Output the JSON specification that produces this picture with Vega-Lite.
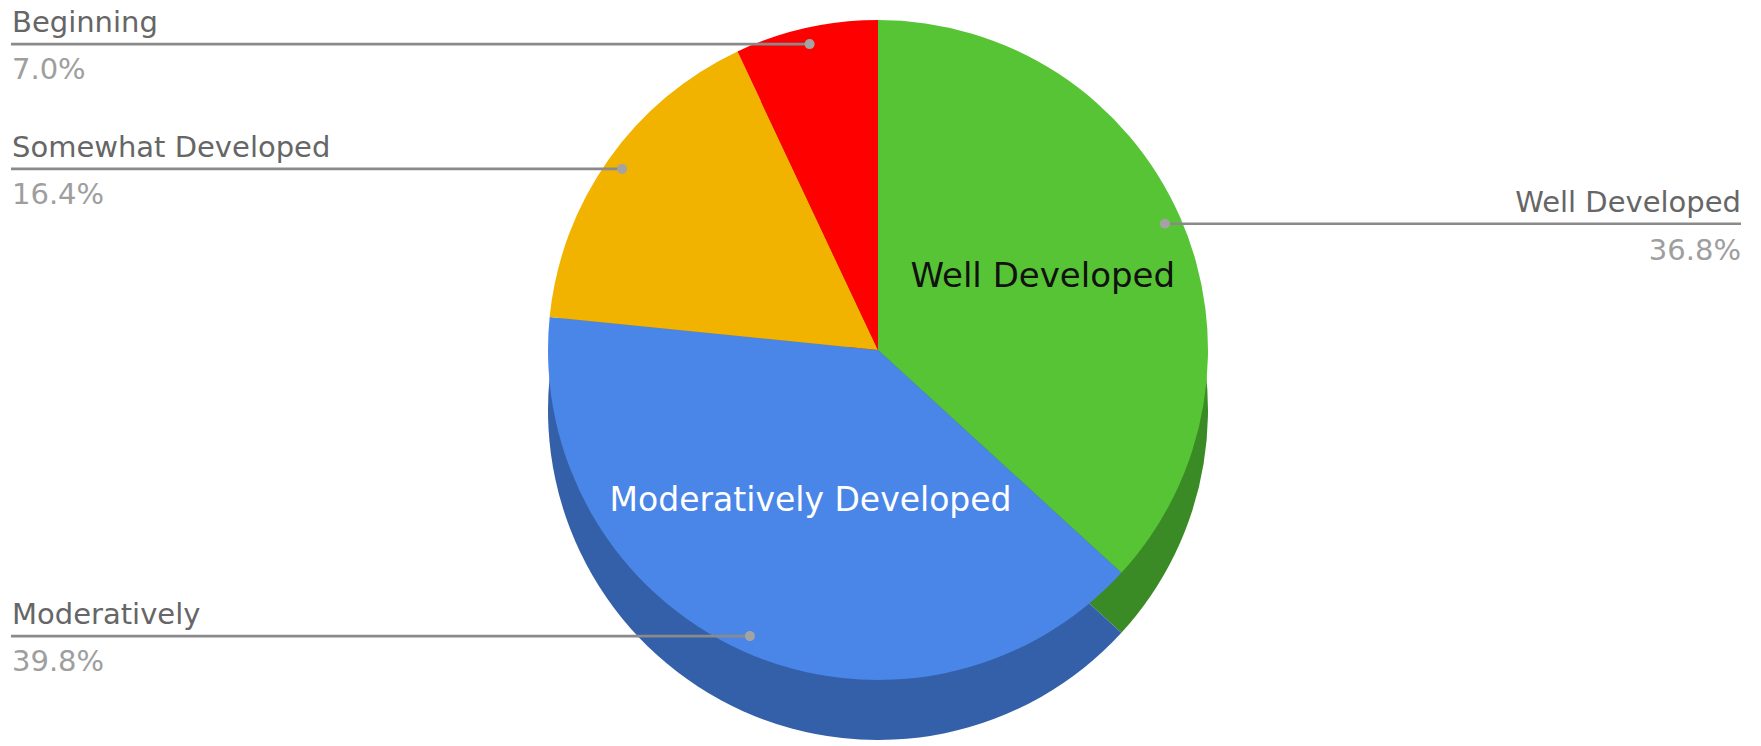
{
  "$schema": "https://vega.github.io/schema/vega-lite/v6.json",
  "width": 1756,
  "height": 700,
  "padding": 0,
  "background": "white",
  "config": {"view": {"stroke": null}, "font": "DejaVu Sans"},
  "data": {"values": [
    {"category": "Well Developed", "label": "Well Developed", "share": 0.368, "rank": 1},
    {"category": "Moderatively Developed", "label": "Moderatively", "share": 0.398, "rank": 2},
    {"category": "Somewhat Developed", "label": "Somewhat Developed", "share": 0.164, "rank": 3},
    {"category": "Beginning", "label": "Beginning", "share": 0.07, "rank": 4}
  ]},
  "layer": [
    {
      "mark": {"type": "arc", "outerRadius": 330, "yOffset": 60},
      "encoding": {
        "theta": {"field": "share", "type": "quantitative", "stack": true},
        "order": {"field": "rank", "type": "quantitative"},
        "fill": {"field": "category", "type": "nominal", "legend": null,
          "scale": {"domain": ["Well Developed", "Moderatively Developed", "Somewhat Developed", "Beginning"],
                    "range": ["#3a8b25", "#3360a8", "#b08300", "#b80000"]}}
      }
    },
    {
      "mark": {"type": "arc", "outerRadius": 330},
      "encoding": {
        "theta": {"field": "share", "type": "quantitative", "stack": true},
        "order": {"field": "rank", "type": "quantitative"},
        "color": {"field": "category", "type": "nominal", "legend": null,
          "scale": {"domain": ["Well Developed", "Moderatively Developed", "Somewhat Developed", "Beginning"],
                    "range": ["#56c434", "#4a86e8", "#f1b300", "#ff0000"]}}
      }
    },
    {
      "mark": {"type": "text", "radius": 180, "fontSize": 34, "align": "center", "baseline": "middle", "font": "DejaVu Sans"},
      "encoding": {
        "theta": {"field": "share", "type": "quantitative", "stack": true},
        "order": {"field": "rank", "type": "quantitative"},
        "text": {"condition": {"test": "datum.category === 'Well Developed'", "field": "category", "type": "nominal"}, "value": ""},
        "color": {"value": "#111111"}
      }
    },
    {
      "mark": {"type": "text", "radius": 165, "fontSize": 33, "align": "center", "baseline": "middle", "font": "DejaVu Sans"},
      "encoding": {
        "theta": {"field": "share", "type": "quantitative", "stack": true},
        "order": {"field": "rank", "type": "quantitative"},
        "text": {"condition": {"test": "datum.category === 'Moderatively Developed'", "field": "category", "type": "nominal"}, "value": ""},
        "color": {"value": "#ffffff"}
      }
    },
    {
      "transform": [{"filter": "datum.category !== 'Well Developed'"}],
      "mark": {"type": "rule", "strokeWidth": 2.6, "color": "#8a8a8a"},
      "encoding": {
        "x": {"field": "share", "type": "quantitative", "axis": null,
          "scale": {"domain": [0.07, 0.164, 0.368, 0.398], "range": [809.6, 622.1, 1164.9, 749.9], "zero": false, "nice": false}},
        "x2": {"value": 11},
        "y": {"field": "share", "type": "quantitative", "axis": null,
          "scale": {"domain": [0.07, 0.164, 0.368, 0.398], "range": [44.1, 168.9, 223.7, 636.1], "zero": false, "nice": false}}
      }
    },
    {
      "transform": [{"filter": "datum.category === 'Well Developed'"}],
      "mark": {"type": "rule", "strokeWidth": 2.6, "color": "#8a8a8a"},
      "encoding": {
        "x": {"field": "share", "type": "quantitative"},
        "x2": {"value": 1741},
        "y": {"field": "share", "type": "quantitative"}
      }
    },
    {
      "mark": {"type": "point", "filled": true, "size": 100, "color": "#a3a3a3", "opacity": 1},
      "encoding": {
        "x": {"field": "share", "type": "quantitative"},
        "y": {"field": "share", "type": "quantitative"}
      }
    },
    {
      "transform": [{"filter": "datum.category !== 'Well Developed'"}],
      "mark": {"type": "text", "x": 12, "dy": -12, "align": "left", "baseline": "alphabetic", "fontSize": 29, "color": "#666666", "font": "DejaVu Sans"},
      "encoding": {
        "y": {"field": "share", "type": "quantitative"},
        "text": {"field": "label", "type": "nominal"}
      }
    },
    {
      "transform": [{"filter": "datum.category !== 'Well Developed'"}],
      "mark": {"type": "text", "x": 12, "dy": 35, "align": "left", "baseline": "alphabetic", "fontSize": 29, "color": "#9e9e9e", "font": "DejaVu Sans"},
      "encoding": {
        "y": {"field": "share", "type": "quantitative"},
        "text": {"field": "share", "type": "quantitative", "format": ".1%"}
      }
    },
    {
      "transform": [{"filter": "datum.category === 'Well Developed'"}],
      "mark": {"type": "text", "x": 1741, "dy": -12, "align": "right", "baseline": "alphabetic", "fontSize": 29, "color": "#666666", "font": "DejaVu Sans"},
      "encoding": {
        "y": {"field": "share", "type": "quantitative"},
        "text": {"field": "label", "type": "nominal"}
      }
    },
    {
      "transform": [{"filter": "datum.category === 'Well Developed'"}],
      "mark": {"type": "text", "x": 1741, "dy": 36, "align": "right", "baseline": "alphabetic", "fontSize": 29, "color": "#9e9e9e", "font": "DejaVu Sans"},
      "encoding": {
        "y": {"field": "share", "type": "quantitative"},
        "text": {"field": "share", "type": "quantitative", "format": ".1%"}
      }
    }
  ]
}
